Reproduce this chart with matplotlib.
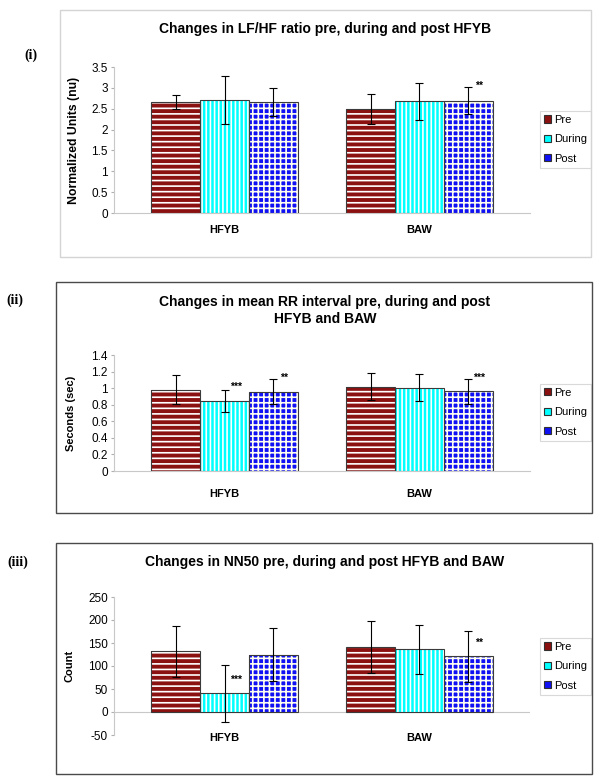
import matplotlib
matplotlib.use('Agg')
import numpy as np
import matplotlib.pyplot as plt
from matplotlib.patches import Rectangle, Patch
from matplotlib.ticker import FuncFormatter, MultipleLocator

plt.rcParams['font.family'] = ['Liberation Sans', 'DejaVu Sans']
plt.rcParams['hatch.linewidth'] = 1.2

groups = ['HFYB', 'BAW']
phases = ['Pre', 'During', 'Post']

# rows: Pre, During, Post ; columns: HFYB, BAW
lfhf_mean = [[2.66, 2.50], [2.71, 2.68], [2.66, 2.69]]
lfhf_err = [[0.16, 0.355], [0.565, 0.44], [0.34, 0.325]]
lfhf_stars = [(1, 2, '**', 3.04)]

rr_mean = [[0.983, 1.019], [0.846, 1.007], [0.955, 0.963]]
rr_err = [[0.17, 0.167], [0.135, 0.163], [0.15, 0.15]]
rr_stars = [(0, 1, '***', 1.01), (0, 2, '**', 1.125), (1, 2, '***', 1.13)]

nn50_mean = [[132, 141], [40.7, 136.5], [125, 121]]
nn50_err = [[55.5, 57], [62, 53], [57, 56]]
nn50_stars = [(0, 1, '***', 70), (1, 2, '**', 150)]

faces = ['#8B1010', '#00FFFF', '#1010F5']
hatch_cols = ['white', 'white', '#FFFFF0']
hatches = ['---', '||||', '+++']

W, H = 600, 782
fig = plt.figure(figsize=(6, 7.82), dpi=100)


def fx(px):
    return px / W


def fy(py):
    return 1 - py / H


def panel(rect, means, errs, stars, ylim, step, ylabel, ylab_x, ylab_size,
          title, title_y, tag, tag_xy, box, box_col, leg_top, cat_pad, zero_line=False):
    ax = fig.add_axes(rect)
    x = np.arange(len(groups))
    offs = [-0.25, 0, 0.25]
    for i in range(3):
        ax.bar(x + offs[i], means[i], 0.25, color=faces[i], edgecolor=hatch_cols[i],
               hatch=hatches[i], linewidth=0, zorder=2)
        ax.bar(x + offs[i], means[i], 0.25, fill=False, edgecolor='#3a3a3a',
               linewidth=0.8, zorder=3)
        ax.errorbar(x + offs[i], means[i], yerr=errs[i], fmt='none', ecolor='black',
                    elinewidth=0.8, capsize=3, capthick=0.8, zorder=4)
    for g, s, txt, yv in stars:
        ax.annotate(txt, (x[g] + offs[s], yv), xytext=(8, 0), textcoords='offset points',
                    ha='center', va='center', fontsize=7.5, fontweight='bold', zorder=5)
    ax.set_xlim(-0.567, 1.567)
    ax.set_ylim(*ylim)
    ax.yaxis.set_major_locator(MultipleLocator(step))
    ax.yaxis.set_major_formatter(FuncFormatter(lambda v, p: '%g' % round(v, 2)))
    ax.set_xticks(x)
    ax.set_xticklabels(groups, fontsize=8, fontweight='bold')
    ax.tick_params(axis='x', length=0, pad=cat_pad)
    ax.tick_params(axis='y', length=2.5, color='#b0b0b0', labelsize=8.5, pad=2)
    for s in ['top', 'right']:
        ax.spines[s].set_visible(False)
    ax.spines['left'].set_color('#c8c8c8')
    if zero_line:
        ax.spines['bottom'].set_visible(False)
        ax.axhline(0, color='#c8c8c8', linewidth=0.8, zorder=1)
    else:
        ax.spines['bottom'].set_color('#c8c8c8')
    ax.set_ylabel(ylabel, fontsize=ylab_size, fontweight='bold')
    ax.yaxis.set_label_coords(ylab_x, 0.5)

    handles = [Patch(facecolor=faces[i], edgecolor='#303030', linewidth=0.8)
               for i in range(3)]
    leg = ax.legend(handles, phases, loc='upper left', bbox_to_anchor=(fx(540), fy(leg_top)),
                    bbox_transform=fig.transFigure, fontsize=8, frameon=True, fancybox=False,
                    edgecolor='#d0d0d0', handlelength=0.6, handleheight=0.6,
                    handletextpad=0.35, labelspacing=0.85, borderpad=0.35, borderaxespad=0)
    leg.get_frame().set_linewidth(0.8)

    fig.text(fx(325), fy(title_y), title, ha='center', va='center', fontsize=10,
             fontweight='bold', linespacing=1.35)
    fig.text(fx(tag_xy[0]), fy(tag_xy[1]), tag, ha='center', va='center', fontsize=10,
             fontweight='bold', family='Liberation Serif')
    x0, y0, x1, y1 = box
    fig.add_artist(Rectangle((fx(x0), fy(y1)), (x1 - x0) / W, (y1 - y0) / H,
                             transform=fig.transFigure, fill=False, edgecolor=box_col,
                             linewidth=1.0))
    return ax


panel([fx(114), fy(213), fx(530) - fx(114), (213 - 67) / H], lfhf_mean, lfhf_err, lfhf_stars,
      (0, 3.5), 0.5, 'Normalized Units (nu)', -0.082, 8.8,
      'Changes in LF/HF ratio pre, during and post HFYB', 29, '(i)', (31, 55),
      (60, 10, 591, 257), '#d4d4d4', 111, 8.5)

panel([fx(114), fy(471), fx(530) - fx(114), (471 - 355) / H], rr_mean, rr_err, rr_stars,
      (0, 1.4), 0.2, 'Seconds (sec)', -0.091, 8,
      'Changes in mean RR interval pre, during and post\nHFYB and BAW', 310.5, '(ii)', (15, 300),
      (56, 282, 592, 513), '#4a4a4a', 384, 13)

panel([fx(114), fy(735), fx(530) - fx(114), (735 - 597) / H], nn50_mean, nn50_err, nn50_stars,
      (-50, 250), 50, 'Count', -0.096, 8,
      'Changes in NN50 pre, during and post HFYB and BAW', 562, '(iii)', (18, 562),
      (56, 543, 592, 774), '#4a4a4a', 638, -1.5, zero_line=True)

fig.savefig('out.png', dpi=100)
